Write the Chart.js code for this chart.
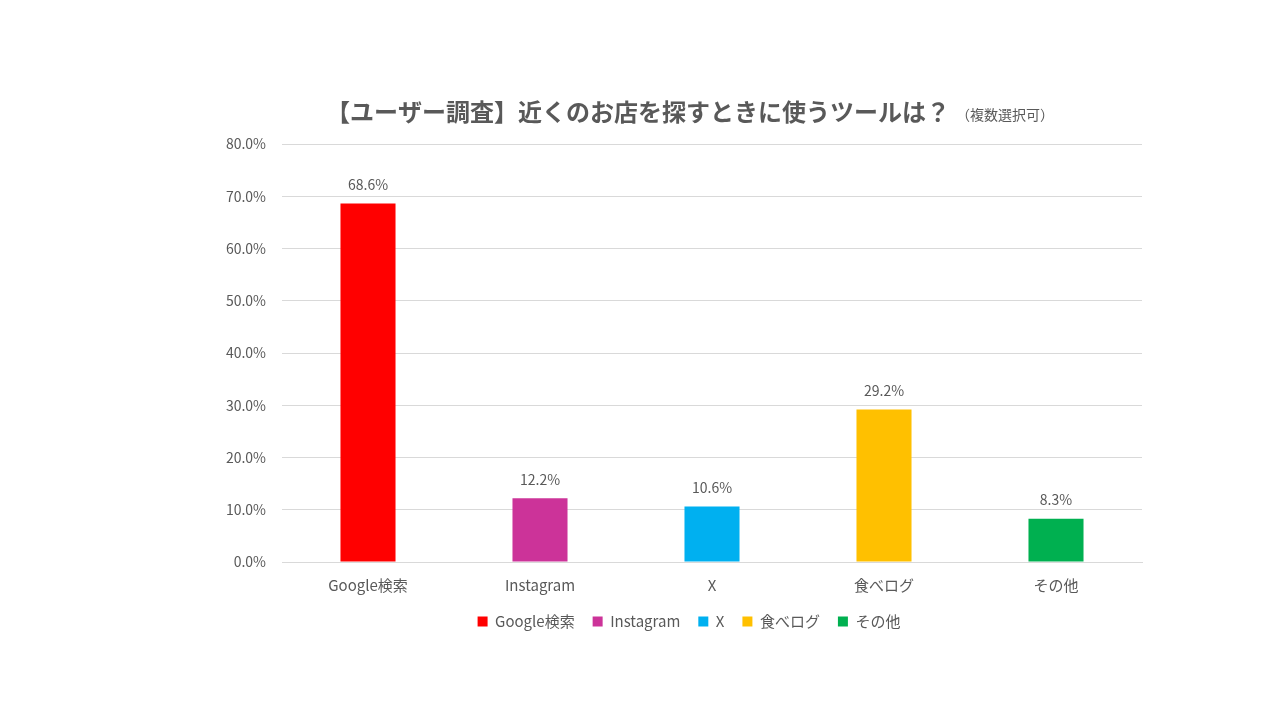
<!DOCTYPE html>
<html lang="ja">
<head>
<meta charset="utf-8">
<script src="https://cdn.jsdelivr.net/npm/chart.js@4"></script>
<style>
    html, body { margin: 0; padding: 0; background: #ffffff; }
    #wrap { width: 1280px; height: 720px; position: relative; }
</style>
</head>
<body>
<div id="wrap"><canvas id="toolChart"></canvas></div>
<script>
// Chart data
const categories = ['Google検索', 'Instagram', 'X', '食べログ', 'その他'];
const shares = [68.6, 12.2, 10.6, 29.2, 8.3];
const barColors = ['#FF0000', '#CC3399', '#00B0F0', '#FFC000', '#00B050'];
const yTicks = [0, 10, 20, 30, 40, 50, 60, 70, 80];

const titleMain = '【ユーザー調査】近くのお店を探すときに使うツールは？';
const titleSub = '（複数選択可）';

const FONT = '"Noto Sans CJK JP", "Noto Sans", sans-serif';
const GREY = '#595959';

// Title drawn inline: big bold text followed by small note
const titlePlugin = {
    id: 'inlineTitle',
    afterDraw(chart) {
        const ctx = chart.ctx;
        ctx.save();
        ctx.textBaseline = 'alphabetic';
        ctx.fillStyle = GREY;
        ctx.font = 'bold 24px ' + FONT;
        const w1 = ctx.measureText(titleMain).width;
        ctx.font = '14px ' + FONT;
        const w2 = ctx.measureText(titleSub).width;
        const x0 = 690 - (w1 + w2 + 6) / 2;
        ctx.font = 'bold 24px ' + FONT;
        ctx.textAlign = 'left';
        ctx.fillText(titleMain, x0, 121);
        ctx.font = '14px ' + FONT;
        ctx.fillText(titleSub, x0 + w1 + 6, 120);
        ctx.restore();
    }
};

// Value labels above bars
const valueLabels = {
    id: 'valueLabels',
    afterDatasetsDraw(chart) {
        const ctx = chart.ctx;
        const meta = chart.getDatasetMeta(0);
        ctx.save();
        ctx.fillStyle = GREY;
        ctx.font = '14px ' + FONT;
        ctx.textAlign = 'center';
        ctx.textBaseline = 'bottom';
        meta.data.forEach((bar, i) => {
            ctx.fillText(shares[i].toFixed(1) + '%', bar.x, bar.y - 12);
        });
        ctx.restore();
    }
};

new Chart(document.getElementById('toolChart'), {
    type: 'bar',
    data: {
        labels: categories,
        datasets: [{
            data: shares,
            backgroundColor: barColors,
            borderWidth: 0,
            barPercentage: 1,
            categoryPercentage: 0.32
        }]
    },
    options: {
        responsive: true,
        maintainAspectRatio: false,
        animation: false,
        layout: {
            padding: { top: 144, right: 0, bottom: 81, left: 98 }
        },
        plugins: {
            title: { display: false },
            tooltip: { enabled: false },
            legend: {
                position: 'bottom',
                labels: {
                    boxWidth: 10,
                    boxHeight: 10,
                    padding: 18,
                    color: GREY,
                    font: { size: 15, family: FONT },
                    generateLabels: () => categories.map((c, i) => ({
                        text: c,
                        fillStyle: barColors[i],
                        strokeStyle: barColors[i],
                        lineWidth: 0,
                        fontColor: GREY,
                        index: i
                    }))
                }
            }
        },
        scales: {
            x: {
                grid: { display: false },
                border: { color: '#D9D9D9' },
                afterFit(scale) { scale.height = scale.height - 4; },
                ticks: {
                    color: GREY,
                    padding: 6,
                    font: { size: 15, family: FONT }
                }
            },
            y: {
                min: 0,
                max: 80,
                afterFit(scale) { scale.width = 184; },
                afterBuildTicks(scale) {
                    scale.ticks = yTicks.map(v => ({ value: v }));
                },
                grid: { color: '#D9D9D9', drawTicks: false },
                border: { display: false },
                ticks: {
                    color: GREY,
                    padding: 16,
                    font: { size: 14, family: FONT },
                    callback: v => v.toFixed(1) + '%'
                }
            },
            // empty right-hand axis only reserves the margin right of the plot
            yRight: {
                position: 'right',
                min: 0,
                max: 80,
                afterFit(scale) { scale.width = 138; },
                grid: { display: false, drawOnChartArea: false },
                border: { display: false },
                ticks: { display: false }
            }
        }
    },
    plugins: [titlePlugin, valueLabels]
});
</script>
</body>
</html>
